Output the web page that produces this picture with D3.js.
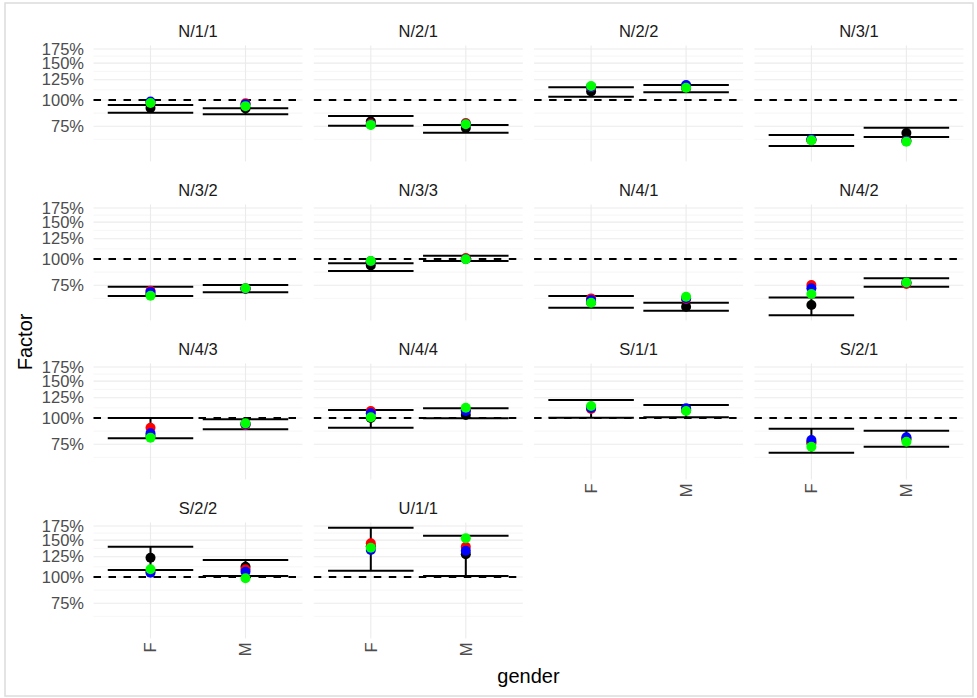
<!DOCTYPE html>
<html>
<head>
<meta charset="utf-8">
<script src="https://cdn.jsdelivr.net/npm/d3@7"></script>
<style>
  html, body { margin: 0; padding: 0; background: #ffffff; }
  svg { display: block; font-family: "Liberation Sans", Arial, sans-serif; }
</style>
</head>
<body>
<svg id="chart" width="977" height="698"></svg>
<script>
// ---------------- data ----------------
const panels = ["N/1/1","N/2/1","N/2/2","N/3/1","N/3/2","N/3/3","N/4/1","N/4/2",
                "N/4/3","N/4/4","S/1/1","S/2/1","S/2/2","U/1/1"];
const genders = ["F","M"];
const yTicks = [0.75, 1, 1.25, 1.5, 1.75];
const yTickLabels = ["75%","100%","125%","150%","175%"];
const minorTicks = [0.6495, 0.866, 1.118, 1.369, 1.620];
const referenceLine = 1;

// errorbar limits per panel: [F, M]
const errLow = [
  [0.870, 0.855],[0.754, 0.698],[1.037, 1.088],[0.603, 0.666],
  [0.666, 0.694],[0.877, 0.978],[0.585, 0.566],[0.540, 0.738],
  [0.800, 0.883],[0.899, 0.997],[1.003, 1.008],[0.683, 0.730],
  [1.080, 1.011],[1.072, 1.011]
];
const errHigh = [
  [0.947, 0.913],[0.839, 0.759],[1.150, 1.179],[0.681, 0.738],
  [0.738, 0.751],[0.954, 1.037],[0.666, 0.619],[0.656, 0.809],
  [1.000, 0.986],[1.092, 1.112],[1.219, 1.153],[0.889, 0.870],
  [1.395, 1.205],[1.719, 1.575]
];
// point series per panel: [F, M]
const blackVals = [
  [0.916, 0.911],[0.790, 0.735],[1.098, 1.140],[0.645, 0.696],
  [0.680, 0.722],[0.931, 1.000],[0.620, 0.592],[0.603, 0.772],
  [0.820, 0.940],[1.000, 1.033],[1.120, 1.090],[0.760, 0.790],
  [1.236, 1.120],[1.400, 1.283]
];
const redVals = [
  [0.973, 0.965],[0.770, 0.777],[1.150, 1.170],[0.645, 0.640],
  [0.706, 0.724],[0.975, 1.011],[0.649, 0.644],[0.751, 0.760],
  [0.899, 0.926],[1.080, 1.090],[1.104, 1.100],[0.770, 0.800],
  [1.060, 1.088],[1.448, 1.395]
];
const blueVals = [
  [0.984, 0.955],[0.765, 0.768],[1.155, 1.179],[0.650, 0.638],
  [0.696, 0.723],[0.975, 1.000],[0.637, 0.650],[0.725, 0.770],
  [0.845, 0.935],[1.053, 1.080],[1.116, 1.112],[0.785, 0.809],
  [1.048, 1.060],[1.346, 1.335]
];
const greenVals = [
  [0.968, 0.935],[0.761, 0.766],[1.166, 1.145],[0.642, 0.633],
  [0.668, 0.725],[0.978, 0.997],[0.619, 0.661],[0.681, 0.772],
  [0.806, 0.943],[1.008, 1.120],[1.141, 1.080],[0.730, 0.771],
  [1.088, 0.986],[1.380, 1.530]
];
const seriesList = [
  {name: "black", color: "#000000", values: blackVals},
  {name: "red",   color: "#ff0000", values: redVals},
  {name: "blue",  color: "#0000ff", values: blueVals},
  {name: "green", color: "#00ff00", values: greenVals}
];

// ---------------- layout ----------------
const svg = d3.select("#chart");
const nCols = 4;
const colLeft0 = 93.5, colStep = 220.3, panelW = 209;
const rowTop0 = 45.4, rowStep = 159, panelH = 116;

// outer frame
svg.append("rect").attr("x", 5).attr("y", 3).attr("width", 968).attr("height", 693)
  .attr("fill", "none").attr("stroke", "#dcdcdc").attr("stroke-width", 1.5);

// shared y scale (log) with 5% expansion in transformed space
const allVals = [].concat(errLow.flat(), errHigh.flat(),
  ...seriesList.map(s => s.values.flat()), [referenceLine]);
const lmin = Math.log(d3.min(allVals)), lmax = Math.log(d3.max(allVals));
const ex = (lmax - lmin) * 0.05;
const y = d3.scaleLog().domain([Math.exp(lmin - ex), Math.exp(lmax + ex)]).range([panelH, 0]);
const x = d3.scalePoint().domain(genders).range([0, panelW]).padding(0.6);
const barHalf = x.step() * 0.9 / 2;

panels.forEach((name, i) => {
  const col = i % nCols, row = Math.floor(i / nCols);
  const left = colLeft0 + col * colStep, top = rowTop0 + row * rowStep;
  const g = svg.append("g").attr("transform", `translate(${left},${top})`);

  // minor grid
  g.selectAll(".minor").data(minorTicks.filter(v => y(v) >= 0 && y(v) <= panelH)).join("line")
    .attr("x1", 0).attr("x2", panelW).attr("y1", d => y(d)).attr("y2", d => y(d))
    .attr("stroke", "#f0f0f0").attr("stroke-width", 0.6);
  // major grid
  g.selectAll(".major").data(yTicks).join("line")
    .attr("x1", 0).attr("x2", panelW).attr("y1", d => y(d)).attr("y2", d => y(d))
    .attr("stroke", "#ebebeb").attr("stroke-width", 1.1);
  g.selectAll(".vgrid").data(genders).join("line")
    .attr("x1", d => x(d)).attr("x2", d => x(d)).attr("y1", 0).attr("y2", panelH)
    .attr("stroke", "#ebebeb").attr("stroke-width", 1.1);

  // strip title
  g.append("text").attr("x", panelW / 2).attr("y", -14.5).attr("dy", "0.35em")
    .attr("text-anchor", "middle").attr("font-size", 16.5).attr("fill", "#1a1a1a").text(name);

  // reference dashed line
  g.append("line").attr("x1", 0).attr("x2", panelW)
    .attr("y1", y(referenceLine)).attr("y2", y(referenceLine))
    .attr("stroke", "#000").attr("stroke-width", 2).attr("stroke-dasharray", "7.5,7.5");

  // errorbars
  genders.forEach((gd, k) => {
    const cx = x(gd), lo = y(errLow[i][k]), hi = y(errHigh[i][k]);
    g.append("line").attr("x1", cx).attr("x2", cx).attr("y1", lo).attr("y2", hi)
      .attr("stroke", "#000").attr("stroke-width", 2);
    [lo, hi].forEach(yy => g.append("line")
      .attr("x1", cx - barHalf).attr("x2", cx + barHalf).attr("y1", yy).attr("y2", yy)
      .attr("stroke", "#000").attr("stroke-width", 2));
  });

  // points
  seriesList.forEach(s => {
    g.selectAll(null).data(genders).join("circle")
      .attr("cx", d => x(d)).attr("cy", (d, k) => y(s.values[i][k]))
      .attr("r", 5).attr("fill", s.color);
  });

  // y tick labels (first column)
  if (col === 0) {
    g.selectAll(".ytl").data(yTicks).join("text")
      .attr("x", -9.5).attr("y", d => y(d)).attr("dy", "0.35em")
      .attr("text-anchor", "end").attr("font-size", 16.5).attr("fill", "#4d4d4d")
      .text((d, k) => yTickLabels[k]);
  }
  // x tick labels (no panel below)
  if (i + nCols >= panels.length) {
    g.selectAll(".xtl").data(genders).join("text")
      .attr("transform", d => `translate(${x(d)},${panelH + 4}) rotate(-90)`)
      .attr("dy", "0.35em").attr("text-anchor", "end")
      .attr("font-size", 16.5).attr("fill", "#4d4d4d").text(d => d);
  }
});

// axis titles
const plotLeft = colLeft0, plotRight = colLeft0 + 3 * colStep + panelW;
const plotTop = rowTop0, plotBottom = rowTop0 + 3 * rowStep + panelH;
svg.append("text").attr("x", (plotLeft + plotRight) / 2).attr("y", 683)
  .attr("text-anchor", "middle").attr("font-size", 20).attr("fill", "#000").text("gender");
svg.append("text").attr("transform", `translate(32,${(plotTop + plotBottom) / 2}) rotate(-90)`)
  .attr("text-anchor", "middle").attr("font-size", 20).attr("fill", "#000").text("Factor");
</script>
</body>
</html>
